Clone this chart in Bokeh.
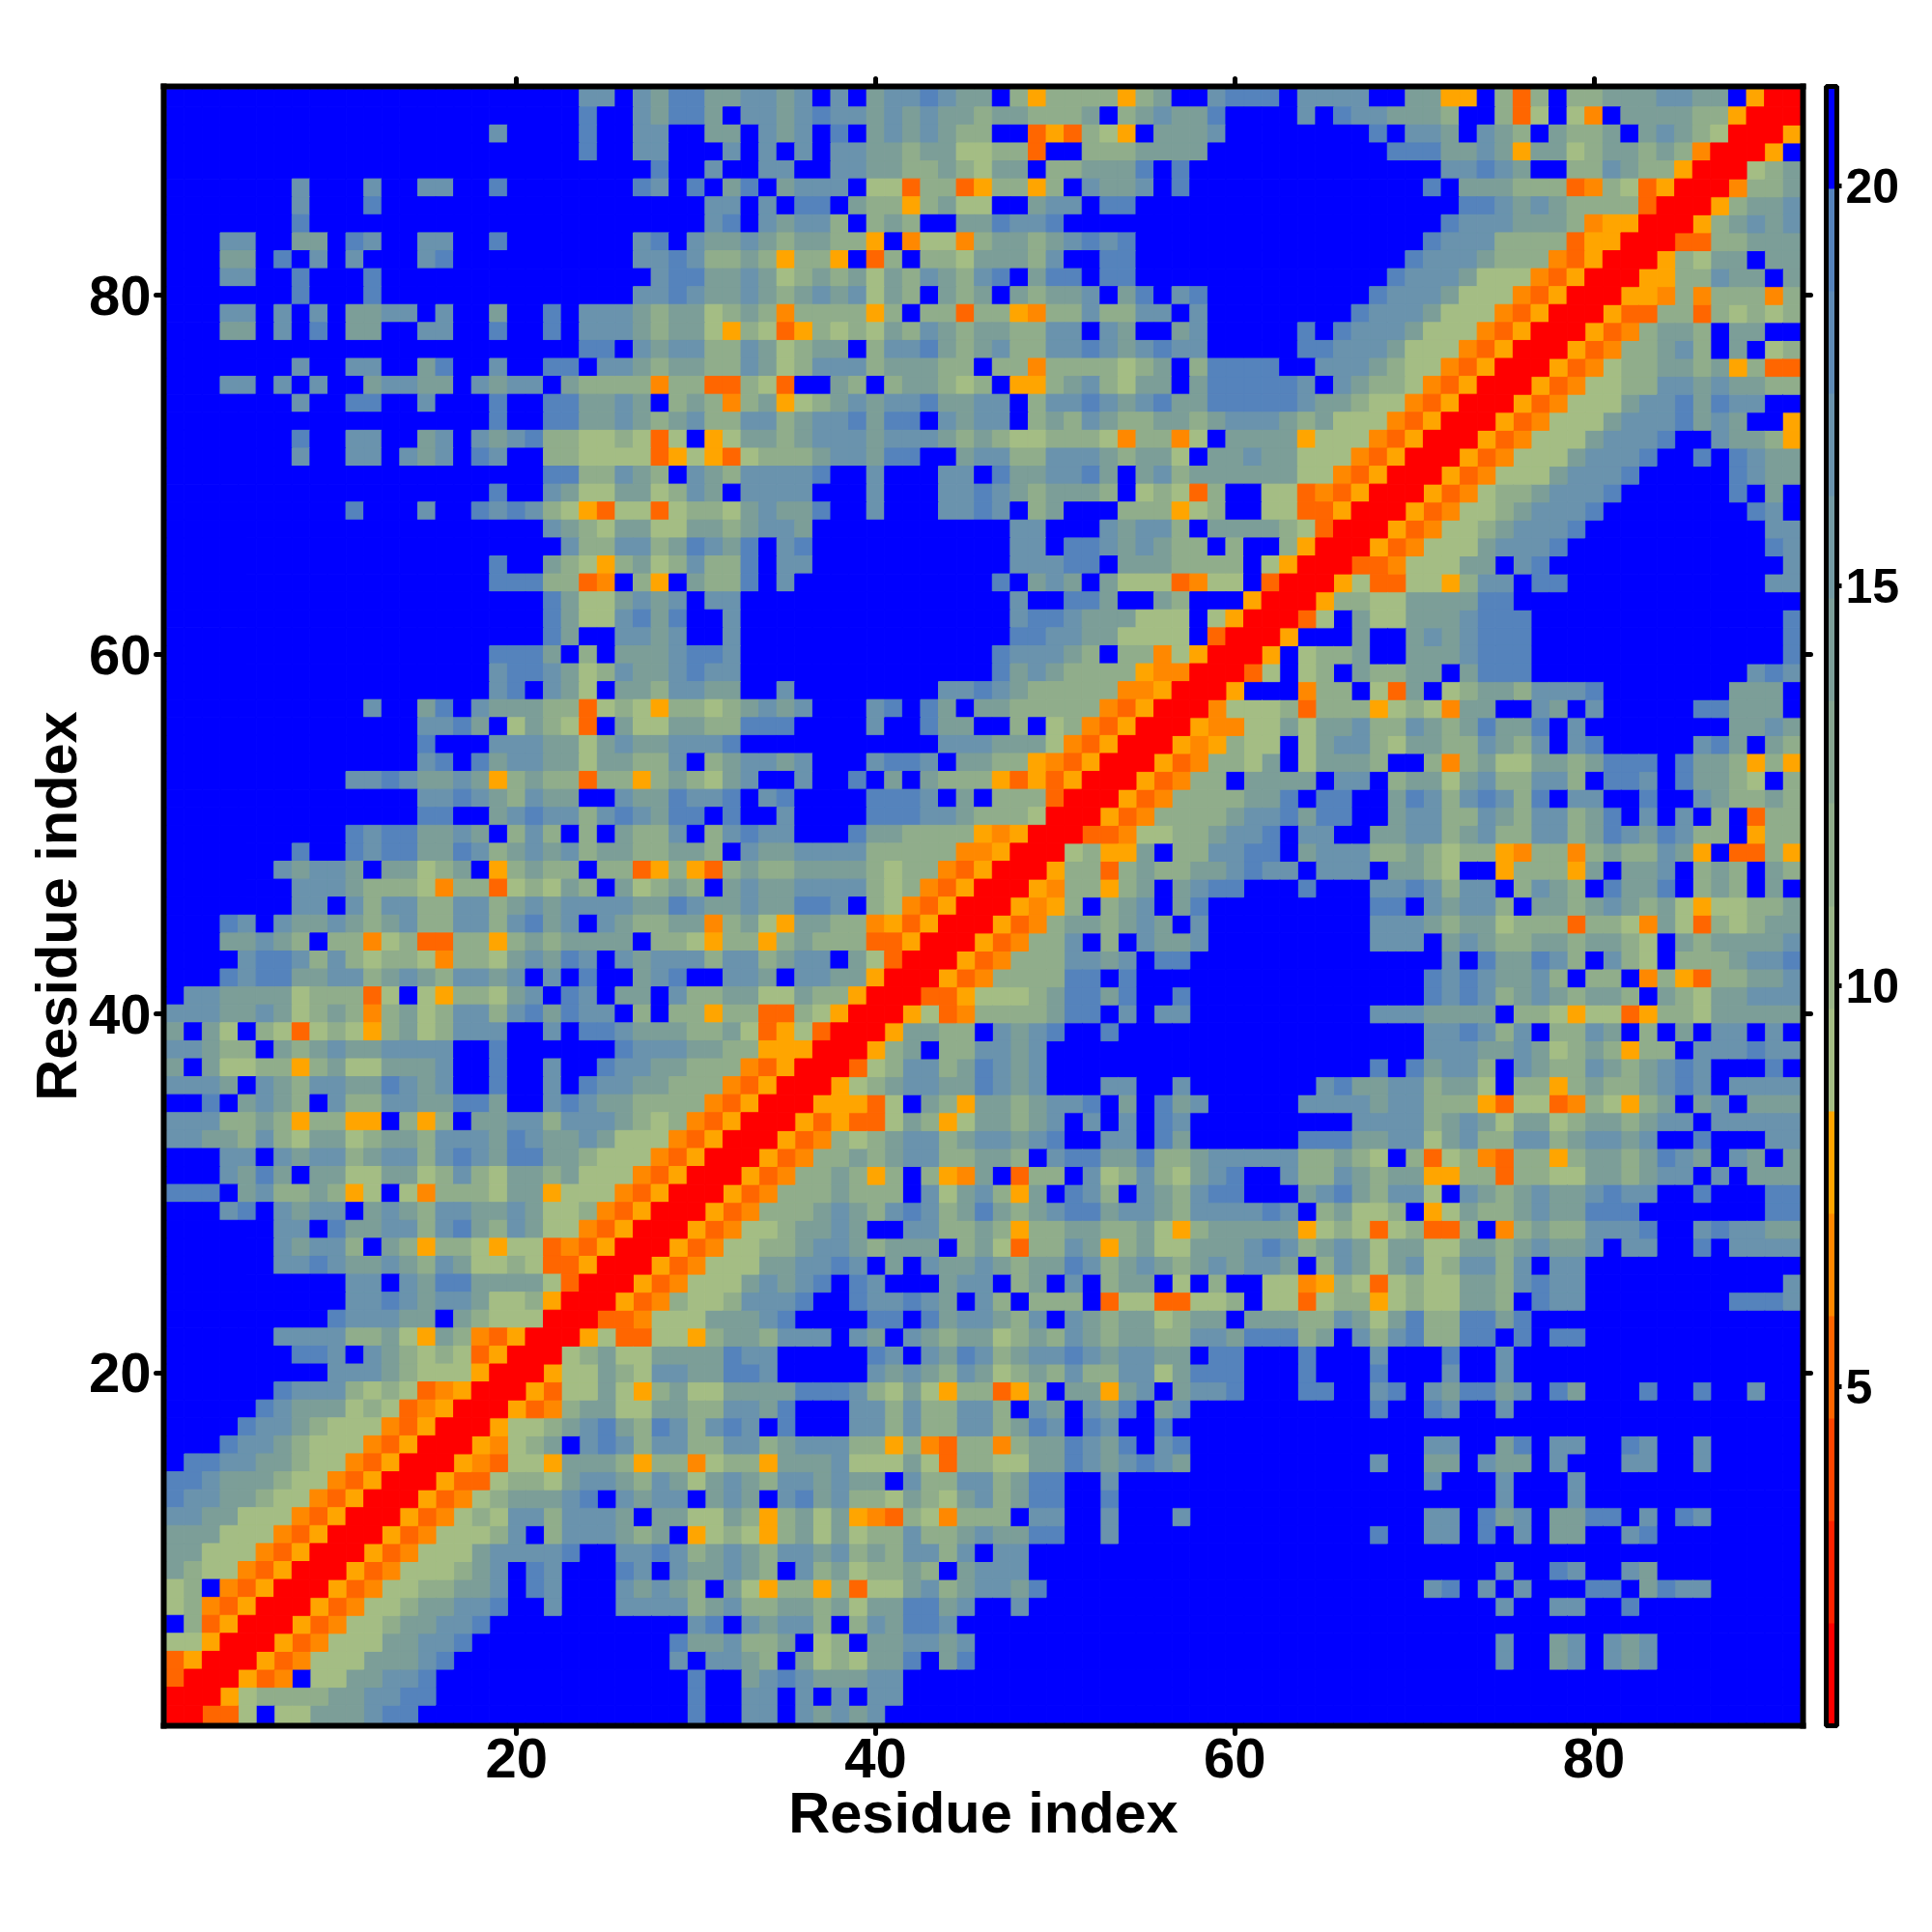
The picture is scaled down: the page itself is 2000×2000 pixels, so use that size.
from bokeh.plotting import figure
from bokeh.models import ColumnDataSource, LinearColorMapper, ColorBar, FixedTicker, LinearAxis, Range1d
from bokeh.transform import transform
from bokeh.embed import file_html
from bokeh.resources import INLINE

TICKS = [20, 40, 60, 80]
CBAR_TICKS = [5, 10, 15, 20]
AXIS_TITLE = "Residue index"
N = 91

# one digit per cell, rows from residue 91 down to 1, columns 1..row (matrix is symmetric)
Z = "0000000000"
UPPER_ROWS = [
f"{Z} {Z} 0002202311 3322320203 2212330464 4446430021 1102222003 3660484044 3332233069 9",
f"{Z} {Z} 0001002311 3022321223 2323343344 4304323310 0002012233 3400485057 0333344699",
f"{Z} 0000000020 0001002200 3302320103 2323440086 8456033320 0000000102 2302340344 303234599",
f"{Z} {Z} 0001002200 0202020223 3433554480 0444333300 0000000011 1332363354 33434799",
f"{Z} {Z} 0000000100 2002200223 3443453304 4333101000 {Z} 0221230044 2344699",
f"0000000200 0200220010 0000001201 0310322205 5844864464 0233201000 {Z} 1033344487 458699",
f"0000000200 0100000000 {Z} 2202011034 4643550032 2011000000 {Z} 0011232344 44899",
f"0000000100 {Z} {Z} 2102322404 3400331221 {Z} {Z} 0122233347 6699",
f"0002200330 1200220010 0000002102 3323433446 0755743343 2121000000 {Z} 1222444486 699",
f"0003301020 2000210000 0000002212 4434644608 4044533342 0011000000 0000000001 2223444786 99",
f"0002200100 0100000000 0000000211 3323543435 3423421031 1011000000 0000000012 2235557869 9",
f"0000000100 0100000000 0000002212 3323432325 3403430343 3203102100 0000000122 2355578699",
f"0002202020 3322020030 0102223433 5434744446 4044844674 4244220200 0000001222 355578699",
f"0003302010 3300220010 0102223433 5645864545 3423433442 2023003200 0001012223 55578699",
f"{Z} {Z} 0001102322 4423543304 2213432442 2123212200 0001122235 5578699",
f"0000000200 2200310020 0110223433 4423542224 3334404474 4445430411 1100222345 578699",
f"0002202020 0322330232 2034444744 8845800340 4334540664 3245330311 1112023445 78699",
f"0000000200 1100200010 0113323043 4743654323 2213322042 2123213311 1112334557 8699",
f"{Z} 0000000010 0113323432 4422432213 1102322043 4234433432 2234355578 699",
f"0000000100 2200320232 1445545850 6533432223 2223434554 4457447503 3336555786 99",
f"0000000200 2202320120 0445555865 6854443223 1100322442 2234335033 2335557869 9",
f"{Z} {Z} 0114423402 3422221002 0002201332 2130324333 3335578699",
f"{Z} 0000000010 0235533542 3022220002 0002212343 3340545840 055878699",
f"{Z} 1000200121 2456855854 4532331002 0002212043 0004446540 05588699",
f"{Z} {Z} 0234533553 3432230000 0000000220 0023224033 3345899",
f"{Z} {Z} 0024422431 2310210000 0000000220 1123234404 004699",
f"{Z} 0000000010 0345643542 4410220000 0000000222 1103334444 05699",
f"{Z} 0000000011 1448704603 4410200000 0000001032 3035558755 0899",
f"{Z} {Z} 0135532320 2200000000 0000000200 1130034000 699",
f"{Z} {Z} 0135521310 0200000000 0000000211 2333555056 99",
f"{Z} {Z} 0130022320 0200000000 0000000112 2335555089 9",
f"{Z} 0000000011 1304033321 1200000000 0000001222 3404475699",
f"{Z} 0000000021 1235423321 2200000000 0000001323 444467799",
f"{Z} 0000000021 0235033422 3300200000 0002212344 44477699",
f"{Z} 0200310233 3448545644 5432320002 1013033444 4478699",
f"{Z} 0000221305 3458035533 4411100002 0013300405 478699",
f"{Z} 0000100022 2335323322 2100000000 0002223335 78699",
f"{Z} 0000210132 2335334420 4322320002 1120334467 8699",
f"{Z} 2212332364 3448446434 5320020010 3034446868 699",
f"{Z} 0000221234 2330023312 2102100001 1120304448 99",
f"{Z} 0000110032 1224212311 0100200001 1122344459 9",
f"{Z} 1211332304 2404034420 4212200013 3444467699",
f"0000000100 1211331243 2324334433 4023322224 444477699",
f"0000002322 3033543064 3440448646 8434433334 54478699",
f"0000000222 3444574485 4534035434 0323322224 5478699",
f"0000000220 2422442243 2322223312 3323311204 578699",
f"0001202332 3432442242 1320234433 7435633447 68699",
f"0003323404 4754884464 3433330445 6446434448 8699",
f"0000211242 4544574453 2312023222 4224322035 899",
f"0001211332 2432342232 0201003210 0223022336 99",
f"0223333544 4850564453 2012033024 4335534469 9",
f"2223323543 4743542242 1312204044 6448845699",
f"3035045854 5643542220 0201123334 435865899",
f"2234403432 3322220010 0000012223 34466699",
f"3035544643 5533320010 0200122334 4478699",
f"2223023422 3312320010 0201223344 478699",
f"0010323402 4422331130 0212334444 78699",
f"2224434644 6604640332 2422234547 8699",
f"2233424533 5433422231 2332355578 699",
f"0002202322 4322421231 1334555786 99",
f"0002313033 5533542453 3435557869 9",
f"1110324434 6505744453 3655578699",
f"0002102322 0323422332 355478699",
f"0000002201 3322421342 35578699",
f"0000002322 4034644565 5878699",
f"0000002212 3323423554 588699",
f"{Z} 2202311333 35899",
f"{Z} 2212322355 4699",
f"0000000001 2223303455 599",
f"0000002222 4435634786 99",
f"0000000112 0234545869 9",
f"0000000002 2234555699",
f"0000001222 454587699",
f"0000012333 54587699",
f"0000122345 5578699",
f"0001223455 578699",
f"0112233455 78699",
f"1123334557 8699",
f"1223345578 699",
f"2233555786 99",
f"3335557869 9",
f"3355578699",
"345578699",
"54078699",
"5478699",
"048699",
"55699",
"8699",
"899",
"99",
"9",
]

# distance (Angstrom) read for each digit class, from the colour bar
LEVEL_VALUES = [20.6, 19.3, 16.8, 14.2, 11.6, 9.1, 7.8, 6.5, 5.2, 1.4]
CMAP_LOW, CMAP_HIGH = 0.76, 21.24
PALETTE = ["#FF0000", "#FF2200", "#FF4500", "#FF6600", "#FF8800", "#FFA500",
           "#A4BD84", "#9AB588", "#90AD8B", "#86A590", "#7C9E98", "#739AA3",
           "#6A93AD", "#5F8BB6", "#5583BC", "#0000FF"]

xs, ys, vs = [], [], []
for k, text in enumerate(UPPER_ROWS):
    row_y = N - k
    cells = text.replace(" ", "").ljust(row_y, "0")[:row_y]
    for i, c in enumerate(cells):
        col_x = i + 1
        v = LEVEL_VALUES[int(c)]
        xs.append(col_x); ys.append(row_y); vs.append(v)
        if col_x != row_y:
            xs.append(row_y); ys.append(col_x); vs.append(v)

source = ColumnDataSource(dict(x=xs, y=ys, v=vs))
mapper = LinearColorMapper(palette=PALETTE, low=CMAP_LOW, high=CMAP_HIGH)

pad = 0.145
p = figure(frame_width=1697, frame_height=1697,
           x_range=Range1d(0.5 - pad, N + 0.5 + pad), y_range=Range1d(0.5 - pad, N + 0.5 + pad),
           output_backend="svg", toolbar_location=None,
           min_border_left=169, min_border_top=89, min_border_bottom=130, min_border_right=130,
           x_axis_label=AXIS_TITLE, y_axis_label=AXIS_TITLE)
p.rect("x", "y", 1, 1, source=source, fill_color=transform("v", mapper),
       line_color=transform("v", mapper), line_width=1.0)

p.grid.visible = False
p.outline_line_color = None
p.background_fill_color = "white"

FONT = "Liberation Sans"
bottom = p.below[0]
left = p.left[0]
top = LinearAxis()
right = LinearAxis()
p.add_layout(top, "above")
p.add_layout(right, "right")
for ax in [bottom, left, top, right]:
    ax.ticker = FixedTicker(ticks=TICKS)
    ax.axis_line_color = "black"
    ax.axis_line_width = 6
    ax.axis_line_cap = "square"
    ax.minor_tick_line_color = None
    ax.major_tick_in = 0
    ax.major_tick_out = 8
    ax.major_tick_line_width = 5
    ax.major_tick_line_cap = "round"
    ax.major_tick_line_color = "black"
    ax.major_label_text_font = FONT
    ax.major_label_text_font_style = "bold"
    ax.major_label_text_font_size = "58px"
    ax.major_label_text_color = "black"
    ax.axis_label_text_font = FONT
    ax.axis_label_text_font_style = "bold"
    ax.axis_label_text_font_size = "59.5px"
    ax.axis_label_text_color = "black"
for ax in [top, right]:
    ax.major_label_text_font_size = "0px"
    ax.major_label_text_color = None
    ax.major_label_standoff = 0
bottom.major_label_standoff = 5
bottom.axis_label_standoff = 0
left.major_label_standoff = 5
left.axis_label_standoff = -3

cb = ColorBar(color_mapper=mapper, ticker=FixedTicker(ticks=CBAR_TICKS), width=11,
              location=(16, 0),
              bar_line_color="black", bar_line_width=5,
              major_tick_in=0, major_tick_out=5, major_tick_line_color="black", major_tick_line_width=5,
              minor_tick_line_color=None, label_standoff=4, margin=0, padding=0,
              major_label_text_font=FONT, major_label_text_font_style="bold",
              major_label_text_font_size="50px", major_label_text_color="black",
              background_fill_color=None, border_line_color=None)
p.add_layout(cb, "right")

open("out.html", "w").write(file_html(p, INLINE))
